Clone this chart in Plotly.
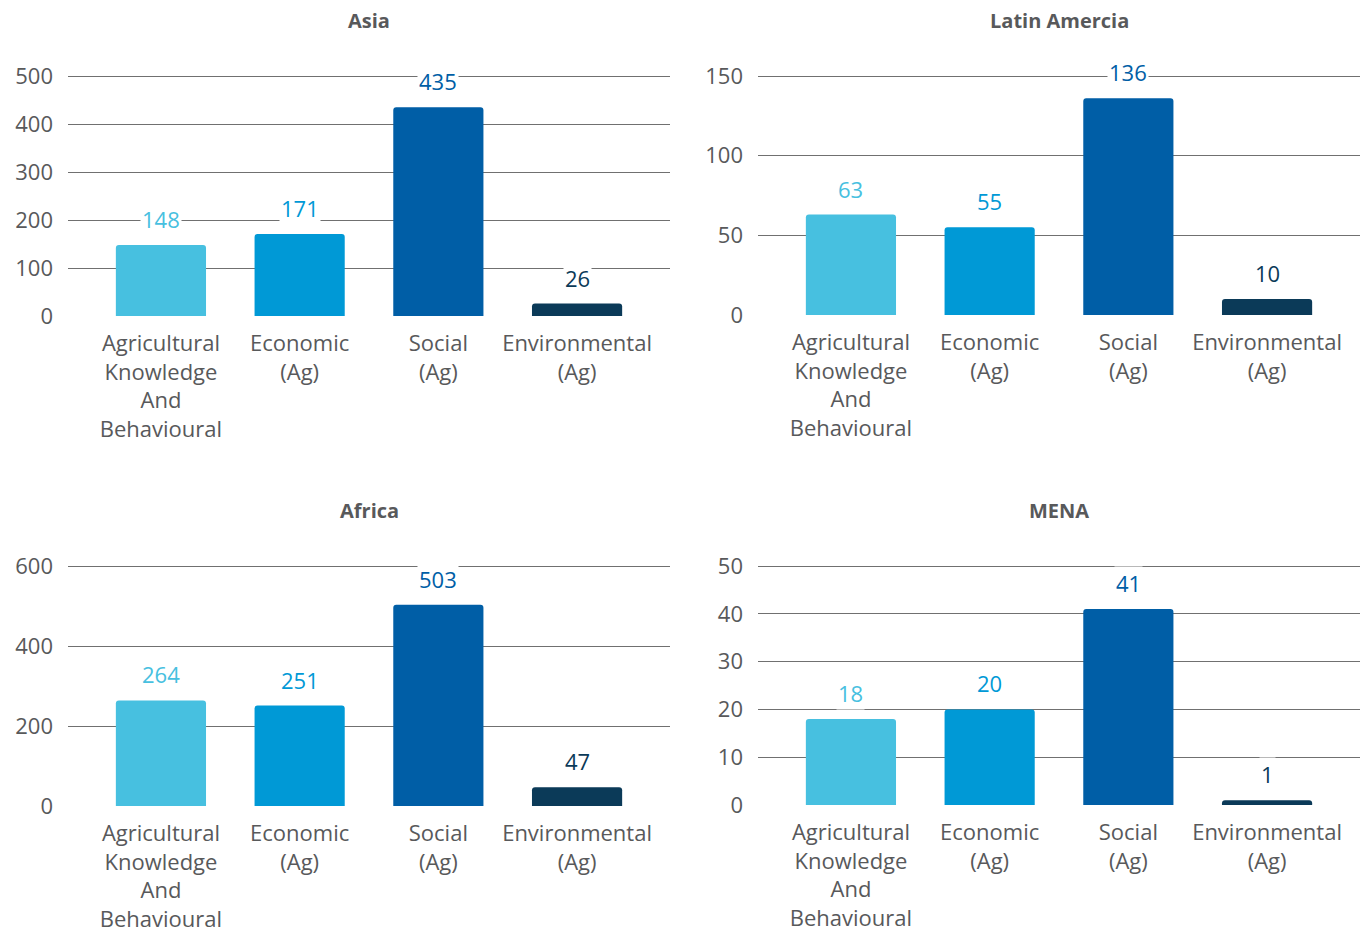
import plotly.graph_objects as go

categories = ["Agricultural Knowledge And Behavioural", "Economic (Ag)", "Social (Ag)", "Environmental (Ag)"]
tick_text = ["Agricultural<br>Knowledge<br>And<br>Behavioural", "Economic<br>(Ag)", "Social<br>(Ag)", "Environmental<br>(Ag)"]
regions = ["Asia", "Latin Amercia", "Africa", "MENA"]
asia = [148, 171, 435, 26]
latin_america = [63, 55, 136, 10]
africa = [264, 251, 503, 47]
mena = [18, 20, 41, 1]
y_max = [500, 150, 600, 50]
y_step = [100, 50, 200, 10]
bar_colors = ["#47C0E0", "#0099D6", "#005EA6", "#0B3A58"]

values = [asia, latin_america, africa, mena]

W, H = 1371, 936
FONT = "Open Sans"
GRAY = "#58595B"
GRID = "#707070"
EXTRA = 0.02  # headroom so the top gridline is drawn inside the plot area

# plot areas (pixels): x0, x1, ytop (at y_max), ybottom (at 0), title y
boxes = [(68, 670, 76, 316, 20), (758, 1360, 76, 315, 20),
         (68, 670, 566, 806, 511), (758, 1360, 566, 805, 511)]

fig = go.Figure()
layout = dict(width=W, height=H, margin=dict(l=0, r=0, t=0, b=0, autoexpand=False),
              paper_bgcolor="white", plot_bgcolor="white", showlegend=False,
              font=dict(family=FONT, color=GRAY, size=22))
annotations = []
for i, (name, vals) in enumerate(zip(regions, values)):
    xa = "x" if i == 0 else f"x{i+1}"
    ya = "y" if i == 0 else f"y{i+1}"
    x0, x1, yt, yb, ty = boxes[i]
    ytop = yt - EXTRA * (yb - yt)
    fig.add_trace(go.Bar(x=categories, y=vals, xaxis=xa, yaxis=ya,
                         marker=dict(color=bar_colors, line=dict(width=0), cornerradius=3),
                         width=0.65, hoverinfo="x+y"))
    layout["xaxis" if i == 0 else f"xaxis{i+1}"] = dict(
        domain=[x0 / W, x1 / W], anchor=ya, type="category", automargin=False,
        range=[-0.67, 3.67], tickvals=categories, ticktext=tick_text,
        showgrid=False, zeroline=False, showline=False, ticks="",
        ticklabelstandoff=12, tickfont=dict(size=22, color=GRAY, family=FONT))
    layout["yaxis" if i == 0 else f"yaxis{i+1}"] = dict(
        domain=[1 - yb / H, 1 - ytop / H], anchor=xa, range=[0, y_max[i] * (1 + EXTRA)],
        dtick=y_step[i], tick0=0, showgrid=True, gridcolor=GRID, gridwidth=1,
        zeroline=False, showline=False, ticks="", ticklabelstandoff=14, automargin=False,
        tickfont=dict(size=22, color=GRAY, family=FONT))
    annotations.append(dict(text=f"<b>{name}</b>", xref="paper", yref="paper",
                            x=(x0 + x1) / 2 / W, y=1 - ty / H, xanchor="center", yanchor="middle",
                            showarrow=False, font=dict(size=20, color=GRAY, family=FONT)))
    for c, v, col in zip(categories, vals, bar_colors):
        annotations.append(dict(text=str(v), x=c, y=v, xref=xa, yref=ya,
                                xanchor="center", yanchor="bottom", yshift=9,
                                showarrow=False, bgcolor="white", borderpad=1,
                                font=dict(size=22, color=col, family=FONT)))
layout["annotations"] = annotations
fig.update_layout(**layout)
fig.write_html("out.html")
